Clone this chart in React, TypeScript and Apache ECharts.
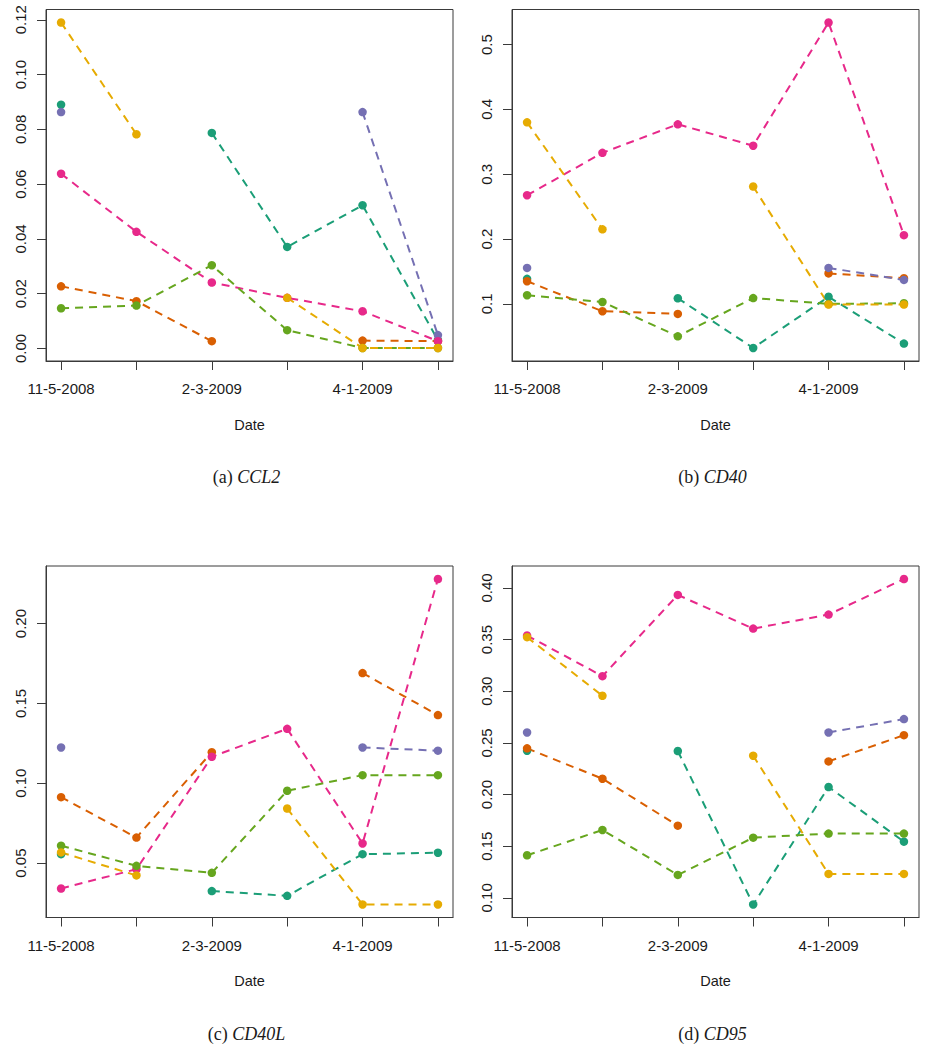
import React, { useEffect, useRef } from "react";
import * as echarts from "echarts";

// ---- Data ----
const timePoints = [1, 2, 3, 4, 5, 6];
const dateLabelPositions = [1, 3, 5];
const dateLabels = ["11-5-2008", "2-3-2009", "4-1-2009"];

const seriesNames = ["S1", "S2", "S3", "S4", "S5", "S6"];
const seriesColors = ["#1B9E77", "#D95F02", "#7570B3", "#E7298A", "#66A61E", "#E6AB02"];

// rows follow seriesNames order; null = missing measurement
const ccl2Values: (number | null)[][] = [
  [0.089, null, 0.0787, 0.0371, 0.0523, 0.003],
  [0.0227, 0.0173, 0.0027, null, 0.0029, 0.0027],
  [0.0863, null, null, null, 0.0863, 0.0049],
  [0.0638, 0.0426, 0.0241, 0.0185, 0.0136, 0.0027],
  [0.0147, 0.0157, 0.0304, 0.0067, 0.0002, 0.0002],
  [0.119, 0.0782, null, 0.0185, 0.0002, 0.0002],
];
const cd40Values: (number | null)[][] = [
  [0.1386, null, 0.1087, 0.032, 0.111, 0.0388],
  [0.135, 0.0887, 0.0846, null, 0.147, 0.1396],
  [0.1555, null, null, null, 0.1555, 0.137],
  [0.2676, 0.333, 0.377, 0.344, 0.534, 0.206],
  [0.1134, 0.103, 0.05, 0.109, 0.1, 0.101],
  [0.38, 0.215, null, 0.281, 0.099, 0.099],
];
const cd40lValues: (number | null)[][] = [
  [0.0556, null, 0.0325, 0.0295, 0.0556, 0.0565],
  [0.0913, 0.066, 0.1195, null, 0.169, 0.1427],
  [0.1224, null, null, null, 0.1224, 0.1204],
  [0.0341, 0.0462, 0.1166, 0.1341, 0.0623, 0.2279],
  [0.0609, 0.0483, 0.0439, 0.0953, 0.1051, 0.1051],
  [0.0567, 0.0423, null, 0.0842, 0.0241, 0.0241],
];
const cd95Values: (number | null)[][] = [
  [0.2424, null, 0.2421, 0.0936, 0.2073, 0.1544],
  [0.2447, 0.2153, 0.1699, null, 0.2321, 0.2575],
  [0.2601, null, null, null, 0.2601, 0.273],
  [0.3539, 0.3146, 0.3932, 0.3606, 0.3742, 0.4086],
  [0.1412, 0.1657, 0.1222, 0.1583, 0.1622, 0.1622],
  [0.3523, 0.2956, null, 0.2376, 0.1232, 0.1232],
];

const ccl2Ticks = [0, 0.02, 0.04, 0.06, 0.08, 0.1, 0.12];
const cd40Ticks = [0.1, 0.2, 0.3, 0.4, 0.5];
const cd40lTicks = [0.05, 0.1, 0.15, 0.2];
const cd95Ticks = [0.1, 0.15, 0.2, 0.25, 0.3, 0.35, 0.4];

const panelLetters = ["(a) ", "(b) ", "(c) ", "(d) "];
const geneNames = ["CCL2", "CD40", "CD40L", "CD95"];

// ---- Layout ----
const panels = [
  { values: ccl2Values, ticks: ccl2Ticks, dec: 2, left: 46, top: 9.5 },
  { values: cd40Values, ticks: cd40Ticks, dec: 1, left: 512, top: 9.5 },
  { values: cd40lValues, ticks: cd40lTicks, dec: 2, left: 46, top: 566 },
  { values: cd95Values, ticks: cd95Ticks, dec: 2, left: 512, top: 566 },
];
const BOX_W = 407;
const BOX_H = 351.5;

const SANS = "Liberation Sans";
const SERIF = "Liberation Serif";
const AXIS_COLOR = "#3a3a3a";
const TEXT_COLOR = "#1a1a1a";
const FS = 15;

function rRange(vals: (number | null)[][]) {
  const flat = vals.flat().filter((v) => v !== null) as number[];
  const lo = Math.min(...flat);
  const hi = Math.max(...flat);
  const pad = (hi - lo) * 0.04;
  return [lo - pad, hi + pad];
}

export default function App() {
  const ref = useRef<HTMLDivElement>(null);
  useEffect(() => {
    if (!ref.current) return;
    const chart = echarts.init(ref.current, undefined, { renderer: "svg" });

    const grids: any[] = [];
    const xAxes: any[] = [];
    const yAxes: any[] = [];
    const series: any[] = [];
    const graphics: any[] = [];

    panels.forEach((p, i) => {
      grids.push({
        left: p.left,
        top: p.top,
        width: BOX_W,
        height: BOX_H,
        show: true,
        borderColor: AXIS_COLOR,
        borderWidth: 1,
        backgroundColor: "transparent",
        containLabel: false,
      });
      xAxes.push({
        type: "value",
        gridIndex: i,
        min: 0.8,
        max: 6.2,
        splitLine: { show: false },
        axisLine: { show: true, onZero: false, lineStyle: { color: AXIS_COLOR, width: 1 } },
        axisTick: {
          show: true,
          customValues: timePoints,
          length: 9,
          inside: false,
          lineStyle: { color: AXIS_COLOR, width: 1 },
        },
        axisLabel: {
          customValues: dateLabelPositions,
          formatter: (v: number) => {
            const k = dateLabelPositions.indexOf(Math.round(v));
            return k >= 0 ? dateLabels[k] : "";
          },
          margin: 20,
          fontSize: FS,
          lineHeight: 15,
          fontFamily: SANS,
          color: TEXT_COLOR,
        },
        name: "Date",
        nameLocation: "middle",
        nameGap: 56,
        nameTextStyle: { fontSize: 14.5, lineHeight: 15, fontFamily: SANS, color: TEXT_COLOR },
      });
      const [lo, hi] = rRange(p.values);
      yAxes.push({
        type: "value",
        gridIndex: i,
        min: lo,
        max: hi,
        splitLine: { show: false },
        axisLine: { show: true, onZero: false, lineStyle: { color: AXIS_COLOR, width: 1 } },
        axisTick: {
          show: true,
          customValues: p.ticks,
          length: 9,
          inside: false,
          lineStyle: { color: AXIS_COLOR, width: 1 },
        },
        axisLabel: {
          customValues: p.ticks,
          formatter: (v: number) => v.toFixed(p.dec),
          rotate: 90,
          margin: 18,
          fontSize: FS,
          lineHeight: 15,
          fontFamily: SANS,
          color: TEXT_COLOR,
        },
      });
      p.values.forEach((row, s) => {
        series.push({
          type: "line",
          name: seriesNames[s],
          xAxisIndex: i,
          yAxisIndex: i,
          data: row.map((v, j) => [timePoints[j], v]),
          connectNulls: false,
          symbol: "circle",
          symbolSize: 8.5,
          showSymbol: true,
          showAllSymbol: true,
          itemStyle: { color: seriesColors[s], borderWidth: 0 },
          lineStyle: { color: seriesColors[s], width: 2, type: [8, 6] },
          emphasis: { disabled: true },
          silent: true,
        });
      });
      graphics.push({
        type: "text",
        x: p.left + BOX_W / 2 - 3,
        y: p.top + 467.5,
        style: {
          text: `{n|${panelLetters[i]}}{i|${geneNames[i]}}`,
          align: "center",
          verticalAlign: "middle",
          fill: TEXT_COLOR,
          rich: {
            n: { fontFamily: SERIF, fontSize: 18, fill: TEXT_COLOR, color: TEXT_COLOR },
            i: { fontFamily: SERIF, fontSize: 18, fontStyle: "italic", fill: TEXT_COLOR, color: TEXT_COLOR },
          },
        },
      });
    });

    chart.setOption({
      animation: false,
      backgroundColor: "#ffffff",
      grid: grids,
      xAxis: xAxes,
      yAxis: yAxes,
      series,
      graphic: graphics,
    });
    return () => chart.dispose();
  }, []);

  return (
    <div
      ref={ref}
      style={{ position: "absolute", left: 0, top: 0, width: 933, height: 1050 }}
    />
  );
}
